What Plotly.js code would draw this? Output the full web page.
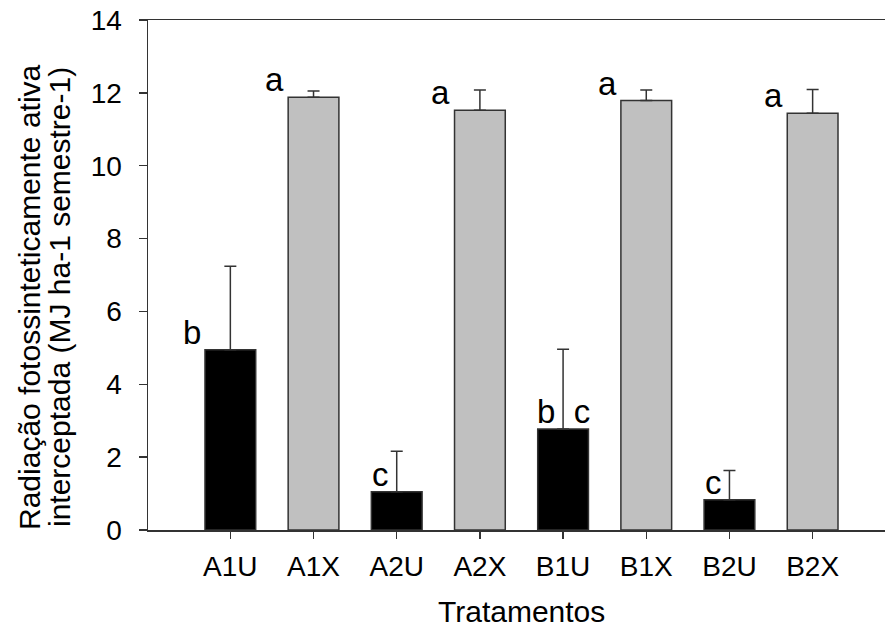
<!DOCTYPE html>
<html>
<head>
<meta charset="utf-8">
<script src="https://cdn.plot.ly/plotly-3.0.1.min.js"></script>
<style>html,body{margin:0;padding:0;background:#fff;}#chart{width:886px;height:628px;}</style>
</head>
<body>
<div id="chart"></div>
<script>
// ---- data ----
const categories = ["A1U", "A1X", "A2U", "A2X", "B1U", "B1X", "B2U", "B2X"];
const values     = [4.95, 11.88, 1.05, 11.52, 2.77, 11.79, 0.83, 11.44];
const errorsUp   = [2.29, 0.17, 1.11, 0.56, 2.19, 0.29, 0.80, 0.65];
const letters    = ["b", "a", "c", "a", "b c", "a", "c", "a"];
const yTickVals  = [0, 2, 4, 6, 8, 10, 12, 14];
const yTitleLines = ["Radiação fotossinteticamente ativa", "interceptada (MJ ha-1 semestre-1)"];
const xTitle = "Tratamentos";

// ---- styling ----
const FONT = "Liberation Sans, Arial, Helvetica, sans-serif";
const AX = "#333333";
const barColors = categories.map(c => c.endsWith("U") ? "#000000" : "#c0c0c0");
const halfBarPx = 25.5;

const trace = {
  type: "bar",
  x: categories,
  y: values,
  marker: { color: barColors, line: { color: AX, width: 1.5 } },
  error_y: {
    type: "data", symmetric: false,
    array: errorsUp, arrayminus: errorsUp.map(() => 0),
    color: AX, thickness: 1.5, width: 6
  },
  hoverinfo: "x+y"
};

const annotations = [];
categories.forEach((c, i) => {
  const t = letters[i];
  let anchor, shift;
  if (t.indexOf(" ") >= 0) { anchor = "center"; shift = 0; }
  else if (t === "c") { anchor = "left"; shift = -halfBarPx - 1; }
  else { anchor = "right"; shift = -halfBarPx - 2; }
  annotations.push({
    x: c, y: values[i], xref: "x", yref: "y",
    text: t.replace(" ", "\u00a0\u00a0"),
    showarrow: false, xanchor: anchor, yanchor: "bottom",
    xshift: shift, yshift: -3,
    font: { family: FONT, size: 33, color: "#000" }
  });
});
const yTitleX = [-119, -89];
yTitleLines.forEach((line, k) => {
  annotations.push({
    xref: "paper", yref: "paper", x: 0, y: 0.5,
    xanchor: "center", yanchor: "middle", xshift: yTitleX[k], yshift: -22,
    text: line, textangle: -90, showarrow: false,
    font: { family: FONT, size: 30, color: "#000" }
  });
});
annotations.push({
  xref: "paper", yref: "paper", x: 0.5, y: 0,
  xanchor: "center", yanchor: "middle", xshift: 5, yshift: -81,
  text: xTitle, showarrow: false,
  font: { family: FONT, size: 30, color: "#000" }
});

const layout = {
  width: 886, height: 628,
  margin: { l: 148, r: 1, t: 20, b: 98 },
  paper_bgcolor: "#fff", plot_bgcolor: "#fff",
  showlegend: false,
  bargap: 0.39,
  xaxis: {
    type: "category", range: [-0.99, 7.87],
    showline: true, linecolor: AX, linewidth: 1.5, mirror: true,
    ticks: "outside", ticklen: 7, tickwidth: 1.5, tickcolor: AX,
    ticklabelstandoff: 4,
    showgrid: false, zeroline: false,
    tickfont: { family: FONT, size: 28, color: "#000" }
  },
  yaxis: {
    range: [0, 14], tickvals: yTickVals,
    showline: true, linecolor: AX, linewidth: 1.5, mirror: false,
    ticks: "outside", ticklen: 8, tickwidth: 1.5, tickcolor: AX,
    ticklabelstandoff: 11,
    showgrid: false, zeroline: false,
    tickfont: { family: FONT, size: 28, color: "#000" }
  },
  annotations: annotations
};

Plotly.newPlot("chart", [trace], layout, { staticPlot: true });
</script>
</body>
</html>
